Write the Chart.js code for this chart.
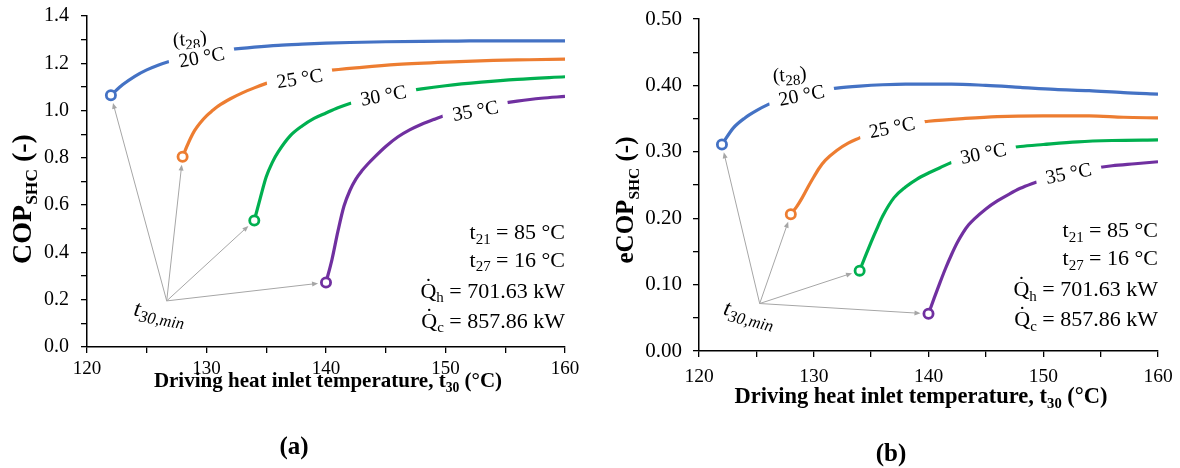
<!DOCTYPE html>
<html>
<head>
<meta charset="utf-8">
<script src="https://cdn.jsdelivr.net/npm/chart.js@4"></script>
<style>
  body { margin: 0; background: #fff; }
  #wrap { position: relative; width: 1180px; height: 468px; }
  .panel { position: absolute; top: 0; width: 590px; height: 468px; }
</style>
</head>
<body>
<div id="wrap">
  <div class="panel" style="left:0"><canvas id="chartA" width="590" height="468"></canvas></div>
  <div class="panel" style="left:590px"><canvas id="chartB" width="590" height="468"></canvas></div>
</div>
<script>
// cooling water inlet temperatures t28 (series)
const seriesNames = ["20 °C", "25 °C", "30 °C", "35 °C"];
const seriesColors = ["#4472C4", "#ED7D31", "#00B050", "#7030A0"];

// driving heat inlet temperature t30 (°C) for each series
const t30_20 = [122, 123, 124, 125, 126, 127, 128, 130, 132, 134, 136, 138, 140, 142, 145, 148, 151, 154, 157, 160];
const t30_25 = [128, 128.5, 129, 129.5, 130, 130.5, 131, 132, 133, 134, 135, 136, 138, 140, 143, 146, 150, 154, 157, 160];
const t30_30 = [134, 134.5, 135, 135.5, 136, 137, 138, 139, 140, 141, 142, 144, 146, 148, 150, 153, 156, 160];
const t30_35 = [140, 140.5, 141, 141.5, 142, 142.5, 143, 143.5, 144, 145, 146, 147, 148, 149, 150, 152, 154, 156, 158, 160];

// (a) COP_SHC
const cop_20 = [1.065, 1.11, 1.145, 1.172, 1.193, 1.21, 1.224, 1.245, 1.258, 1.268, 1.276, 1.281, 1.285, 1.288, 1.291, 1.293, 1.294, 1.295, 1.295, 1.295];
const cop_25 = [0.805, 0.865, 0.915, 0.95, 0.978, 1.0, 1.02, 1.05, 1.075, 1.096, 1.115, 1.132, 1.152, 1.168, 1.183, 1.195, 1.205, 1.212, 1.215, 1.218];
const cop_30 = [0.535, 0.63, 0.72, 0.78, 0.825, 0.893, 0.935, 0.967, 0.99, 1.012, 1.03, 1.057, 1.076, 1.092, 1.105, 1.12, 1.132, 1.143];
const cop_35 = [0.273, 0.37, 0.49, 0.595, 0.662, 0.71, 0.745, 0.774, 0.8, 0.848, 0.888, 0.918, 0.942, 0.962, 0.98, 1.005, 1.025, 1.04, 1.052, 1.06];

// (b) eCOP_SHC
const ecop_20 = [0.311, 0.336, 0.351, 0.362, 0.371, 0.378, 0.383, 0.391, 0.396, 0.399, 0.401, 0.402, 0.402, 0.402, 0.400, 0.397, 0.394, 0.392, 0.389, 0.387];
const ecop_25 = [0.206, 0.217, 0.231, 0.247, 0.262, 0.276, 0.287, 0.302, 0.313, 0.321, 0.329, 0.334, 0.342, 0.346, 0.350, 0.353, 0.354, 0.354, 0.352, 0.351];
const ecop_30 = [0.121, 0.143, 0.164, 0.184, 0.203, 0.231, 0.247, 0.259, 0.268, 0.276, 0.284, 0.295, 0.303, 0.308, 0.311, 0.315, 0.317, 0.318];
const ecop_35 = [0.056, 0.08, 0.103, 0.125, 0.145, 0.163, 0.178, 0.19, 0.199, 0.214, 0.226, 0.236, 0.245, 0.252, 0.258, 0.267, 0.274, 0.279, 0.282, 0.285];

// operating conditions shown in the text box
const condLines = [
  [["t", ""], ["21", "sub"], [" = 85 °C", ""]],
  [["t", ""], ["27", "sub"], [" = 16 °C", ""]],
  [["Q", "dot"], ["h", "sub"], [" = 701.63 kW", ""]],
  [["Q", "dot"], ["c", "sub"], [" = 857.86 kW", ""]],
];

const SERIF = "'Liberation Serif', 'Times New Roman', serif";

function fontOf(o, s) {
  return `${o.style || "normal"} ${o.weight || "normal"} ${s}px ${o.family || SERIF}`;
}

function richWidth(ctx, parts, o) {
  const sub = o.subScale || 0.65;
  let w = 0;
  parts.forEach(([t, k]) => {
    ctx.font = fontOf(o, k === "sub" ? o.size * sub : o.size);
    w += ctx.measureText(t).width;
  });
  return w;
}

// draws text made of normal / subscript / dotted parts, centred vertically on cy
function drawRich(ctx, parts, cx, cy, o) {
  const sub = o.subScale || 0.65;
  const w = richWidth(ctx, parts, o);
  let x = o.align === "right" ? cx - w : o.align === "left" ? cx : cx - w / 2;
  const base = cy + o.size * 0.33;
  ctx.textBaseline = "alphabetic";
  ctx.textAlign = "left";
  ctx.fillStyle = o.color || "#000";
  parts.forEach(([t, k]) => {
    const s = k === "sub" ? o.size * sub : o.size;
    ctx.font = fontOf(o, s);
    const tw = ctx.measureText(t).width;
    ctx.fillText(t, x, k === "sub" ? base + o.size * 0.22 : base);
    if (k === "dot") {
      const dw = ctx.measureText("\u02D9").width;
      ctx.fillText("\u02D9", x + tw / 2 - dw / 2, base - o.size * 0.22);
    }
    x += tw;
  });
  return w;
}

function arrow(ctx, x0, y0, x1, y1, gap) {
  const a = Math.atan2(y1 - y0, x1 - x0);
  const c = Math.cos(a), s = Math.sin(a);
  const L = Math.hypot(x1 - x0, y1 - y0) - gap;
  const ex = x0 + c * L, ey = y0 + s * L;
  ctx.beginPath();
  ctx.moveTo(x0, y0);
  ctx.lineTo(ex - c * 4, ey - s * 4);
  ctx.stroke();
  ctx.beginPath();
  ctx.moveTo(ex, ey);
  ctx.lineTo(ex - c * 6 + s * 2.5, ey - s * 6 - c * 2.5);
  ctx.lineTo(ex - c * 6 - s * 2.5, ey - s * 6 + c * 2.5);
  ctx.closePath();
  ctx.fill();
}

function buildDatasets(xsList, ysList) {
  return xsList.map((xs, i) => ({
    label: seriesNames[i],
    data: xs.map((x, j) => ({ x: x, y: ysList[i][j] })),
    borderColor: seriesColors[i],
    backgroundColor: "#fff",
    borderWidth: 3.2,
    cubicInterpolationMode: "monotone",
    pointRadius: (c) => (c.dataIndex === 0 ? 4.6 : 0),
    pointHoverRadius: 0,
    pointBorderWidth: 2.8,
    pointBackgroundColor: "#fff",
    pointBorderColor: seriesColors[i],
  }));
}

// annotation plugin: arrows, curve labels, text box, axis titles
function annotPlugin(cfg) {
  return {
    id: "annot",
    beforeDatasetsDraw(chart) {
      const ctx = chart.ctx, sx = chart.scales.x, sy = chart.scales.y;
      const ox = sx.getPixelForValue(cfg.origin[0]), oy = sy.getPixelForValue(cfg.origin[1]);
      ctx.save();
      ctx.strokeStyle = "#A6A6A6";
      ctx.fillStyle = "#A6A6A6";
      ctx.lineWidth = 1;
      chart.data.datasets.forEach((ds) => {
        const p = ds.data[0];
        arrow(ctx, ox, oy, sx.getPixelForValue(p.x), sy.getPixelForValue(p.y), 8);
      });
      ctx.restore();
    },
    afterDatasetsDraw(chart) {
      const ctx = chart.ctx, sx = chart.scales.x, sy = chart.scales.y;
      ctx.save();
      cfg.labels.forEach((l) => {
        const px = sx.getPixelForValue(l.x), py = sy.getPixelForValue(l.y);
        const o = { size: l.size, style: l.style, subScale: l.subScale };
        ctx.save();
        ctx.translate(px, py);
        ctx.rotate((l.rot * Math.PI) / 180);
        if (l.bg) {
          const w = richWidth(ctx, l.parts, o);
          ctx.fillStyle = "#fff";
          ctx.fillRect(-w / 2 - l.pad, -l.size * 0.5, w + 2 * l.pad, l.size);
        }
        drawRich(ctx, l.parts, 0, 0, o);
        ctx.restore();
      });
      // conditions text box
      const bx = sx.getPixelForValue(160);
      condLines.forEach((parts, i) => {
        drawRich(ctx, parts, bx, sy.getPixelForValue(cfg.boxY[i]), { size: cfg.boxSize, align: "right", subScale: 0.68 });
      });
      ctx.restore();
    },
    afterDraw(chart) {
      const ctx = chart.ctx;
      ctx.save();
      drawRich(ctx, [["Driving heat inlet temperature, t", ""], ["30", "sub"], [" (°C)", ""]],
        cfg.xTitle[0], cfg.xTitle[1], { size: cfg.xTitleSize, weight: "bold" });
      ctx.translate(cfg.yTitle[0], cfg.yTitle[1]);
      ctx.rotate(-Math.PI / 2);
      drawRich(ctx, cfg.yTitleParts, 0, 0, { size: cfg.yTitleSize, weight: "bold", subScale: 0.62 });
      ctx.restore();
      ctx.save();
      drawRich(ctx, [[cfg.panel, ""]], cfg.panelPos[0], cfg.panelPos[1], { size: cfg.panelSize, weight: "bold" });
      ctx.restore();
    },
  };
}

function makeChart(id, datasets, cfg) {
  return new Chart(document.getElementById(id), {
    type: "line",
    data: { datasets: datasets },
    options: {
      responsive: false,
      animation: false,
      devicePixelRatio: 1,
      layout: { padding: { top: cfg.top, right: cfg.right, left: 0, bottom: 0 } },
      plugins: { legend: { display: false }, tooltip: { enabled: false } },
      scales: {
        x: {
          type: "linear",
          min: 120,
          max: 160,
          ticks: {
            stepSize: 5,
            autoSkip: false,
            maxRotation: 0,
            color: "#000",
            padding: cfg.xPad,
            font: { family: SERIF, size: cfg.xTickSize },
            callback: (v, i) => (i % 2 === 0 ? String(v) : ""),
          },
          grid: { drawOnChartArea: false, drawTicks: true, tickLength: 6, color: "#000", lineWidth: 1.3 },
          border: { color: "#000", width: 1.5 },
          afterFit: (s) => {
            s.height = cfg.xHeight;
            s.paddingLeft = 0;
            s.paddingRight = 0;
          },
        },
        y: {
          min: 0,
          max: cfg.yMax,
          ticks: {
            stepSize: cfg.yStep,
            autoSkip: false,
            color: "#000",
            padding: cfg.yPad,
            font: { family: SERIF, size: cfg.yTickSize },
            callback: (v, i) => (i % 2 === 0 ? v.toFixed(cfg.yDec) : ""),
          },
          grid: { drawOnChartArea: false, drawTicks: true, tickLength: 6, color: "#000", lineWidth: 1.3 },
          border: { color: "#000", width: 1.5 },
          afterFit: (s) => {
            s.width = cfg.yWidth;
            s.paddingTop = 0;
            s.paddingBottom = 0;
          },
        },
      },
    },
    plugins: [annotPlugin(cfg)],
  });
}

const t28Label = [["(t", ""], ["28", "sub"], [")", ""]];
const t30minLabel = [["t", ""], ["30,min", "sub"]];

makeChart("chartA", buildDatasets([t30_20, t30_25, t30_30, t30_35], [cop_20, cop_25, cop_30, cop_35]), {
  top: 16, right: 25, yWidth: 87, xHeight: 121, yMax: 1.4, yStep: 0.1, yDec: 1,
  xTickSize: 19, yTickSize: 20, xPad: 5, yPad: 12,
  origin: [126.67, 0.195],
  labels: [
    { parts: t28Label, x: 128.6, y: 1.305, rot: -4, size: 20, subScale: 0.75, bg: false },
    { parts: [["20 °C", ""]], x: 129.6, y: 1.227, rot: -10, size: 20, bg: true, pad: 10 },
    { parts: [["25 °C", ""]], x: 137.8, y: 1.137, rot: -9, size: 20, bg: true, pad: 10 },
    { parts: [["30 °C", ""]], x: 144.8, y: 1.065, rot: -10, size: 20, bg: true, pad: 10 },
    { parts: [["35 °C", ""]], x: 152.5, y: 1.0, rot: -10, size: 20, bg: true, pad: 10 },
    { parts: t30minLabel, x: 126.1, y: 0.147, rot: 10, size: 23, style: "italic", subScale: 0.72, bg: false },
  ],
  boxY: [0.487, 0.371, 0.240, 0.113], boxSize: 22,
  xTitle: [328, 380], xTitleSize: 21,
  yTitle: [22, 199], yTitleSize: 28,
  yTitleParts: [["COP", ""], ["SHC", "sub"], [" (-)", ""]],
  panel: "(a)", panelPos: [294, 446], panelSize: 25,
});

makeChart("chartB", buildDatasets([t30_20, t30_25, t30_30, t30_35], [ecop_20, ecop_25, ecop_30, ecop_35]), {
  top: 19, right: 22, yWidth: 109, xHeight: 117, yMax: 0.5, yStep: 0.05, yDec: 2,
  xTickSize: 19.5, yTickSize: 21, xPad: 8, yPad: 11,
  origin: [125.29, 0.0715],
  labels: [
    { parts: t28Label, x: 127.9, y: 0.417, rot: -4, size: 20, subScale: 0.75, bg: false },
    { parts: [["20 °C", ""]], x: 128.93, y: 0.3854, rot: -11, size: 20, bg: true, pad: 10 },
    { parts: [["25 °C", ""]], x: 136.82, y: 0.337, rot: -11, size: 20, bg: true, pad: 10 },
    { parts: [["30 °C", ""]], x: 144.77, y: 0.298, rot: -11, size: 20, bg: true, pad: 10 },
    { parts: [["35 °C", ""]], x: 152.2, y: 0.268, rot: -11, size: 20, bg: true, pad: 10 },
    { parts: t30minLabel, x: 124.41, y: 0.057, rot: 14, size: 23, style: "italic", subScale: 0.72, bg: false },
  ],
  boxY: [0.182, 0.140, 0.094, 0.049], boxSize: 22,
  xTitle: [331, 396], xTitleSize: 22.5,
  yTitle: [35, 200], yTitleSize: 25,
  yTitleParts: [["eCOP", ""], ["SHC", "sub"], [" (-)", ""]],
  panel: "(b)", panelPos: [301, 453], panelSize: 25,
});
</script>
</body>
</html>
